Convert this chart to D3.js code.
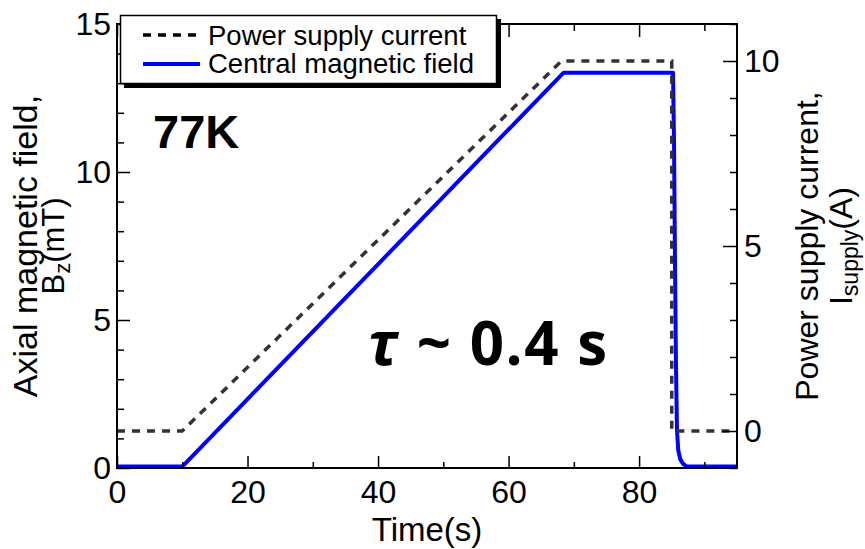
<!DOCTYPE html>
<html><head><meta charset="utf-8">
<script src="https://cdn.jsdelivr.net/npm/d3@7"></script>
<style>body{margin:0;background:#fff}svg{display:block}</style>
</head><body><svg id="c" width="865" height="549" font-family="'Liberation Sans',Arial,sans-serif"></svg>
<script>
// Data
const fieldTime = [0, 10, 68.4, 85.2, 85.35, 85.5, 85.65, 85.8, 86.0, 86.3, 86.7, 87.3, 95];
const fieldValue = [0.05, 0.05, 13.35, 13.35, 11.0, 7.0, 3.5, 1.3, 0.6, 0.3, 0.15, 0.05, 0.05];
const currentTime = [0, 10, 68.1, 85.0, 85.0, 95];
const currentValue = [0, 0, 10.0, 10.0, 0, 0];
const xMajor = [0, 20, 40, 60, 80];
const xMinor = [10, 30, 50, 70, 90];
const yLMajor = [0, 5, 10, 15];
const yLMinor = [1,2,3,4,6,7,8,9,11,12,13,14];
const yRMajor = [0, 5, 10];
const yRMinor = [-1,1,2,3,4,6,7,8,9,11];
const legendLabels = ["Power supply current", "Central magnetic field"];

const svg = d3.select("#c");
const L = 117, R = 737, T = 24, B = 468;
const x = d3.scaleLinear().domain([0, 95]).range([L, R]);
const yL = d3.scaleLinear().domain([0, 15]).range([B, T]);
const yR = d3.scaleLinear().domain([-1, 11]).range([B, T]);

const fieldData = fieldTime.map((t, i) => [t, fieldValue[i]]);
const currentData = currentTime.map((t, i) => [t, currentValue[i]]);

svg.append("clipPath").attr("id", "pc").append("rect")
  .attr("x", L).attr("y", T - 2).attr("width", R - L).attr("height", B - T + 2);

// series
svg.append("path").datum(fieldData)
  .attr("clip-path", "url(#pc)")
  .attr("d", d3.line().x(d => x(d[0])).y(d => yL(d[1])))
  .attr("fill", "none").attr("stroke", "#0000ff").attr("stroke-width", 4)
  .attr("stroke-linejoin", "round");
svg.append("path").datum(currentData)
  .attr("d", d3.line().x(d => x(d[0])).y(d => yR(d[1])))
  .attr("fill", "none").attr("stroke", "#333").attr("stroke-width", 3.5)
  .attr("stroke-dasharray", "8,7");

// axes with inward ticks
function ax(make, tr, major, minor, lenMaj, lenMin, showLabels) {
  const g1 = svg.append("g").attr("transform", tr)
    .call(make().tickValues(minor).tickSize(-lenMin).tickFormat(""));
  const g2 = svg.append("g").attr("transform", tr)
    .call(make().tickValues(major).tickSize(-lenMaj).tickFormat(showLabels ? d3.format("d") : () => ""));
  [g1, g2].forEach(g => {
    g.attr("font-family", null).attr("font-size", null);
    g.select(".domain").remove();
    g.selectAll("line").attr("stroke", "#000").attr("stroke-width", 1.5);
    g.selectAll("text").attr("font-size", 32).attr("fill", "#000");
  });
  return g2;
}
const gb = ax(() => d3.axisBottom(x), `translate(0,${B})`, xMajor, xMinor, 12, 6, true);
gb.selectAll("text").attr("dy", "0.71em").attr("y", 12);
ax(() => d3.axisTop(x), `translate(0,${T})`, xMajor, xMinor, 13, 7, false);
const gl = ax(() => d3.axisLeft(yL), `translate(${L},0)`, yLMajor, yLMinor, 13, 7, true);
gl.selectAll("text").attr("x", -6);
const gr = ax(() => d3.axisRight(yR), `translate(${R},0)`, yRMajor, yRMinor, 14, 7, true);
gr.selectAll("text").attr("x", 7);

// frame
svg.append("rect").attr("x", L).attr("y", T).attr("width", R - L).attr("height", B - T)
  .attr("fill", "none").attr("stroke", "#000").attr("stroke-width", 2);

// legend
const lg = svg.append("g");
lg.append("rect").attr("x", 124).attr("y", 19).attr("width", 377).attr("height", 69).attr("fill", "#000");
lg.append("rect").attr("x", 120.5).attr("y", 15.5).attr("width", 376).attr("height", 68)
  .attr("fill", "#fff").attr("stroke", "#000").attr("stroke-width", 1.5);
lg.append("line").attr("x1", 143).attr("x2", 200).attr("y1", 35).attr("y2", 35)
  .attr("stroke", "#000").attr("stroke-width", 3.5).attr("stroke-dasharray", "8,7");
lg.append("line").attr("x1", 143).attr("x2", 200).attr("y1", 64).attr("y2", 64)
  .attr("stroke", "#0000ff").attr("stroke-width", 4);
lg.selectAll("text.l").data(legendLabels).enter().append("text")
  .attr("x", 208).attr("y", (d, i) => 45 + i * 28).attr("font-size", 27.5).text(d => d);

// annotations
svg.append("text").attr("x", 153).attr("y", 148).attr("font-size", 47).attr("font-weight", "bold").text("77K");
const tau = svg.append("text").attr("x", 368).attr("y", 365).attr("font-size", 60)
  .attr("font-weight", "bold").attr("textLength", 239).attr("lengthAdjust", "spacing")
  .attr("style", "font-family: 'Open Sans', Lato, sans-serif");
tau.append("tspan").attr("font-style", "italic").text("τ");
tau.append("tspan").text(" ~ 0.4 s");

// axis titles
svg.append("text").attr("x", (L + R) / 2).attr("y", 541).attr("text-anchor", "middle")
  .attr("font-size", 33).text("Time(s)");
const lt = svg.append("g").attr("transform", `translate(0,${(T + B) / 2}) rotate(-90)`);
lt.append("text").attr("x", 0).attr("y", 37).attr("text-anchor", "middle").attr("font-size", 34)
  .text("Axial magnetic field,");
const lt2 = lt.append("text").attr("x", 0).attr("y", 64).attr("text-anchor", "middle").attr("font-size", 31);
lt2.append("tspan").text("B");
lt2.append("tspan").attr("font-size", 22).attr("dy", 6).text("z");
lt2.append("tspan").attr("dy", -6).text("(mT)");
const rt = svg.append("g").attr("transform", `translate(0,${(T + B) / 2}) rotate(-90)`);
rt.append("text").attr("x", 0).attr("y", 818).attr("text-anchor", "middle").attr("font-size", 32)
  .text("Power supply current,");
const rt2 = rt.append("text").attr("x", 0).attr("y", 852).attr("text-anchor", "middle").attr("font-size", 32);
rt2.append("tspan").text("I");
rt2.append("tspan").attr("font-size", 23).attr("dy", 6).text("supply");
rt2.append("tspan").attr("dy", -6).text("(A)");
</script></body></html>
